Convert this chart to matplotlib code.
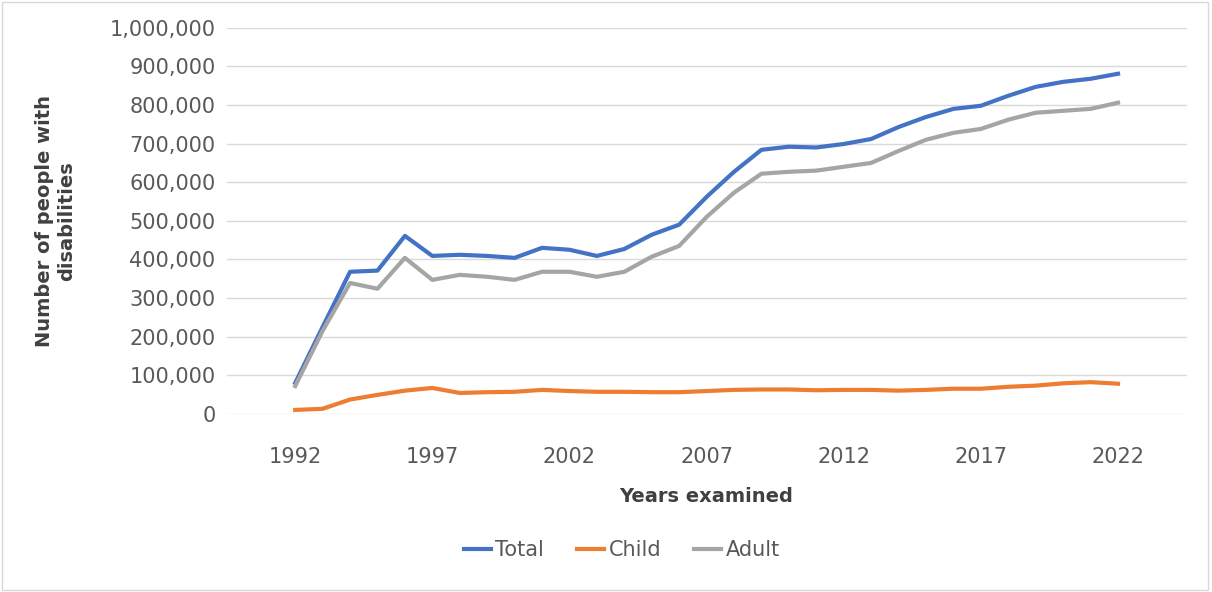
import matplotlib.pyplot as plt
from matplotlib.patches import Rectangle
from matplotlib.ticker import FuncFormatter

years = list(range(1992, 2023))
total = [80000, 225000, 368000, 371000, 461000, 409000, 412000, 409000, 404000, 430000,
         425000, 409000, 427000, 464000, 490000, 562000, 627000, 684000, 692000, 690000,
         699000, 712000, 743000, 769000, 790000, 798000, 824000, 847000, 860000, 868000, 881000]
child = [10000, 13000, 37000, 49000, 60000, 67000, 54000, 56000, 57000, 62000,
         59000, 57000, 57000, 56000, 56000, 59000, 62000, 63000, 63000, 61000,
         62000, 62000, 60000, 62000, 65000, 65000, 70000, 73000, 79000, 82000, 78000]
adult = [72000, 215000, 339000, 324000, 404000, 347000, 360000, 355000, 347000, 368000,
         368000, 355000, 368000, 407000, 435000, 510000, 573000, 622000, 627000, 630000,
         640000, 650000, 681000, 710000, 728000, 738000, 762000, 780000, 785000, 790000, 806000]
tick_years = [1992, 1997, 2002, 2007, 2012, 2017, 2022]

fig = plt.figure(figsize=(12.12, 5.92), dpi=100)
ax = fig.add_axes([0.187, 0.301, 0.792, 0.652])
fig.patches.append(Rectangle((0.002, 0.003), 0.995, 0.994, transform=fig.transFigure,
                             fill=False, edgecolor='#D9D9D9', linewidth=1))

ax.plot(years, total, color='#4472C4', lw=3, label='Total')
ax.plot(years, child, color='#ED7D31', lw=3, label='Child')
ax.plot(years, adult, color='#A5A5A5', lw=3, label='Adult')

ax.set_xlim(1989.5, 2024.5)
ax.set_ylim(0, 1000000)
ax.set_yticks(range(0, 1000001, 100000))
ax.yaxis.set_major_formatter(FuncFormatter(lambda v, p: f"{int(v):,}"))
ax.set_xticks(tick_years)
ax.grid(axis='y', color='#D9D9D9', lw=1)
ax.set_axisbelow(True)
for s in ax.spines.values():
    s.set_visible(False)
ax.tick_params(length=0, labelsize=15, labelcolor='#595959')
ax.tick_params(axis='x', pad=24)
ax.tick_params(axis='y', pad=8)

ax.set_ylabel("Number of people with\ndisabilities", fontsize=14, fontweight='bold',
              color='#404040', labelpad=24)
ax.set_xlabel("Years examined", fontsize=14, fontweight='bold', color='#404040', labelpad=14)

ax.legend(loc='center', bbox_to_anchor=(0.513, 0.071), bbox_transform=fig.transFigure,
          ncol=3, frameon=False, fontsize=15, handlelength=1.3, handletextpad=0.2,
          columnspacing=1.6, labelcolor='#595959')

fig.savefig('out.png', dpi=100)
